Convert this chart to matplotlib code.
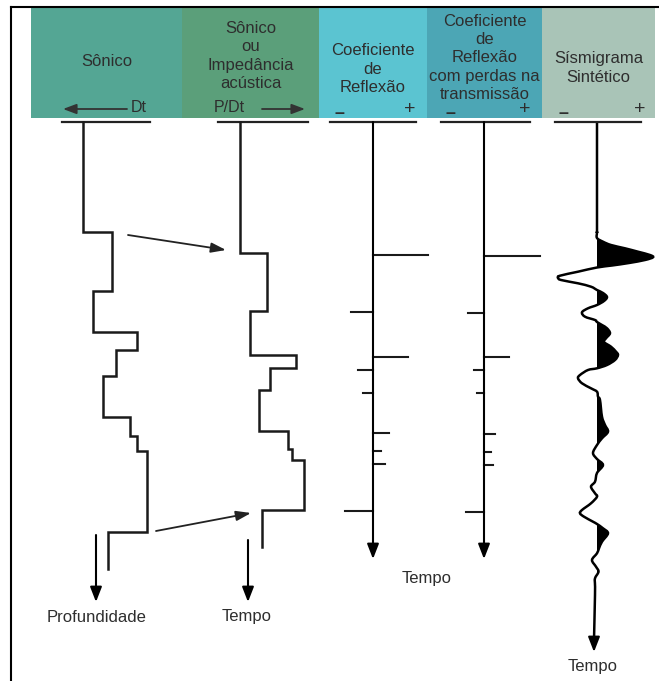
import matplotlib.pyplot as plt
import numpy as np
from matplotlib.patches import Rectangle, PathPatch
from matplotlib.path import Path

plt.rcParams['font.family'] = ['Liberation Sans', 'DejaVu Sans']

# header panels
panel_titles = ['Sônico', 'Sônico\nou\nImpedância\nacústica', 'Coeficiente\nde\nReflexão',
                'Coeficiente\nde\nReflexão\ncom perdas na\ntransmissão', 'Sísmigrama\nSintético']
panel_colors = ['#54a694', '#5b9f7a', '#5bc4d1', '#4ca6b5', '#a9c4b7']

# sonic log (depth): top of each layer and log offset
sonic_tops = [0, 110, 169, 210, 228, 254, 295, 314, 329, 410]
sonic_vals = [0, 29, 10, 54, 33, 20, 47, 54, 64, 25]
sonic_end = 447

# impedance log (time)
imp_tops = [0, 131, 189, 233, 246, 268, 309, 327, 338, 388]
imp_vals = [0, 27, 10, 56, 30, 19, 48, 52, 64, 22]
imp_end = 425

# reflection coefficients
rc_times = [133, 190, 235, 248, 271, 311, 329, 342, 389]
rc_vals = [55, -22, 35, -15, -10, 16, 8, 12, -28]

# reflection coefficients with transmission losses
rct_times = [134, 191, 235, 248, 271, 312, 330, 343, 390]
rct_vals = [56, -16, 25, -10, -7, 11, 7, 9, -18]

# synthetic seismogram trace
syn_t = [0, 100, 110, 116, 119.7, 123, 126.3, 129.7, 133, 135.3, 138, 141, 143.5, 145.5,
         149.7, 153.7, 155.7, 158, 161.3, 164.7, 168, 171, 175, 179, 183,
         186.3, 190.3, 194.7, 198, 200, 203, 206.3, 211.3, 216.3, 220, 224.7,
         229.7, 233, 238, 243, 246.3, 248, 253, 256.3, 261.3, 266.3, 269.7,
         274.7, 278, 294.7, 303, 309.7, 316.3, 323, 331, 337, 343, 351, 359.7,
         364.7, 371.3, 374.7, 381.3, 388, 391.3, 394.7, 399.7, 402, 406.3,
         411.3, 419.7, 426.3, 431.3, 438, 444.7, 449.7, 456.3, 463, 473, 518]
syn_a = [0, 0, 0, 0, 6, 14, 28, 41, 53, 56, 48, 32, 15, 0,
         -19, -37, -39, -36, -19, -6, 0, 6, 10, 7, 0,
         -9, -15, -12, -2, 0, 5, 10, 13, 9, 7, 14,
         19, 21, 18, 10, 0, -9, -17, -19, -15, -6, 0,
         1, 3, 5, 8, 11, 5, 0, -4, 0, 6, 0, -2,
         -6, -2, 0, -6, -15, -17, -13, -4, 0, 6,
         11, 5, 2, 0, -5, -1, 1.5, -2, -2, -2, -3]

# layout (pixels)
W, H = 659, 681
TOP = 122
panel_x = [31, 182, 319, 427, 542, 655]
panel_text_y = [61, 56, 69, 58, 68]
x_sonic, x_imp, x_rc, x_rct, x_syn = 83, 240, 373, 484, 597
scale_lines = [(62, 150), (218, 308), (330, 416), (441, 530), (555, 641)]
TXT = '#2e2e2e'

fig = plt.figure(figsize=(W / 100, H / 100), dpi=100)
ax = fig.add_axes([0, 0, 1, 1])
ax.set_xlim(0, W)
ax.set_ylim(H, 0)
ax.axis('off')

# frame
ax.plot([11, 11], [7, H], color='black', lw=1.5)
ax.plot([11, W], [7, 7], color='black', lw=1.5)

# header
for i, (title, col) in enumerate(zip(panel_titles, panel_colors)):
    ax.add_patch(Rectangle((panel_x[i], 8), panel_x[i + 1] - panel_x[i], 110,
                           facecolor=col, edgecolor='none'))
    ax.text((panel_x[i] + panel_x[i + 1]) / 2, panel_text_y[i], title, ha='center',
            va='center', fontsize=12, color=TXT, linespacing=1.28)

ax.text(139, 108, 'Dt', ha='center', va='center', fontsize=11.5, color=TXT)
ax.annotate('', xy=(63, 109), xytext=(127, 109),
            arrowprops=dict(arrowstyle='-|>,head_length=0.8,head_width=0.3',
                            color='#333333', lw=1.3, shrinkA=0, shrinkB=0))
ax.text(229, 108, 'P/Dt', ha='center', va='center', fontsize=11.5, color=TXT)
ax.annotate('', xy=(305, 109), xytext=(262, 109),
            arrowprops=dict(arrowstyle='-|>,head_length=0.8,head_width=0.3',
                            color='#333333', lw=1.3, shrinkA=0, shrinkB=0))
for xm, xp in [(339, 410), (450, 525), (563, 640)]:
    ax.text(xm, 113, '–', ha='center', va='center', fontsize=13, fontweight='bold', color=TXT)
    ax.text(xp, 110, '+', ha='center', va='center', fontsize=14, color=TXT)

# scale lines on top of each track
for x0, x1 in scale_lines:
    ax.plot([x0, x1], [TOP, TOP], color='#222222', lw=1.6)


def step_log(tops, vals, end, x0):
    t = np.array(tops + [end], dtype=float)
    v = np.array(vals, dtype=float)
    ys = np.repeat(t, 2)[1:-1]
    xs = np.repeat(v, 2)
    ax.plot(x0 + xs, TOP + ys, color='#1a1a1a', lw=1.8, solid_joinstyle='miter')


step_log(sonic_tops, sonic_vals, sonic_end, x_sonic)
step_log(imp_tops, imp_vals, imp_end, x_imp)

arrow_kw = dict(arrowstyle='-|>,head_length=0.9,head_width=0.35', color='black',
                lw=1.5, shrinkA=0, shrinkB=0)
thin_kw = dict(arrowstyle='-|>,head_length=0.9,head_width=0.3', color='#222222',
               lw=1.3, shrinkA=0, shrinkB=0)

# depth -> time arrows
ax.annotate('', xy=(226, 250), xytext=(128, 235), arrowprops=thin_kw)
ax.annotate('', xy=(251, 513), xytext=(156, 531), arrowprops=thin_kw)

# axis arrows below logs
ax.annotate('', xy=(96, 602), xytext=(96, 535), arrowprops=arrow_kw)
ax.annotate('', xy=(248, 602), xytext=(248, 540), arrowprops=arrow_kw)
ax.text(97, 617, 'Profundidade', ha='center', va='center', fontsize=12, color=TXT)
ax.text(247, 617, 'Tempo', ha='center', va='center', fontsize=12, color=TXT)

# reflection coefficient tracks
for x0, times, vals in [(x_rc, rc_times, rc_vals), (x_rct, rct_times, rct_vals)]:
    ax.annotate('', xy=(x0, 559), xytext=(x0, TOP), arrowprops=arrow_kw)
    for t, v in zip(times, vals):
        ax.plot([x0, x0 + v], [TOP + t, TOP + t], color='#1a1a1a', lw=1.5)
ax.text(427, 578, 'Tempo', ha='center', va='center', fontsize=12, color=TXT)

# synthetic seismogram: smooth curve through the read points (Catmull-Rom as Bezier)
pts = np.column_stack([x_syn + np.array(syn_a, dtype=float), TOP + np.array(syn_t)])
verts = [pts[0]]
codes = [Path.MOVETO]
n = len(pts)
for i in range(n - 1):
    p0 = pts[max(i - 1, 0)]
    p1, p2 = pts[i], pts[i + 1]
    p3 = pts[min(i + 2, n - 1)]
    verts += [p1 + (p2 - p0) / 6, p2 - (p3 - p1) / 6, p2]
    codes += [Path.CURVE4] * 3
trace = Path(verts, codes)
fill_path = Path(verts + [(x_syn, pts[-1, 1]), (x_syn, pts[0, 1]), (x_syn, pts[0, 1])],
                 codes + [Path.LINETO, Path.LINETO, Path.CLOSEPOLY])
clip = Rectangle((x_syn, 0), W - x_syn, H, transform=ax.transData)
fill = PathPatch(fill_path, facecolor='black', edgecolor='none')
ax.add_patch(fill)
fill.set_clip_path(clip)
ax.add_patch(PathPatch(trace, facecolor='none', edgecolor='black', lw=1.8))
ax.annotate('', xy=(pts[-1, 0], 652), xytext=(pts[-1, 0], pts[-1, 1]),
            arrowprops=arrow_kw)
ax.text(593, 667, 'Tempo', ha='center', va='center', fontsize=12, color=TXT)

fig.savefig('out.png', dpi=100)
